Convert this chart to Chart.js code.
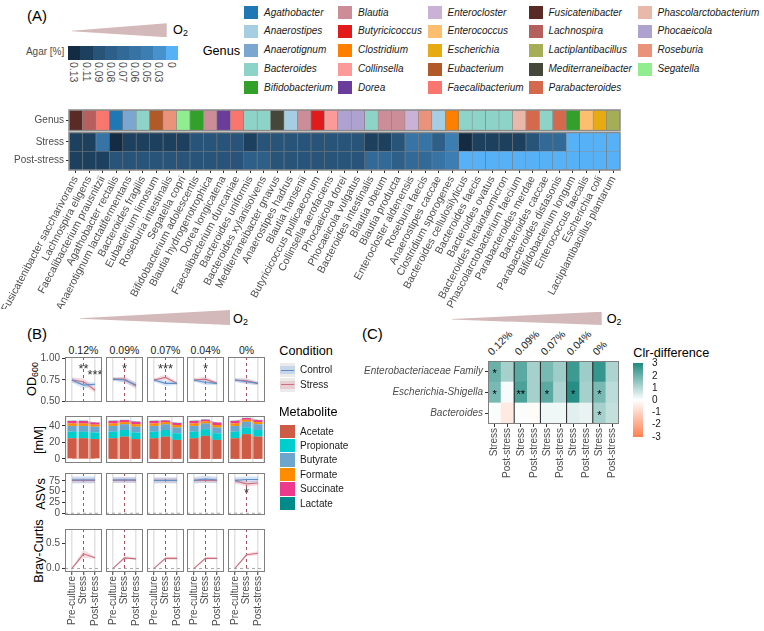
<!DOCTYPE html>
<html><head><meta charset="utf-8">
<script src="https://cdn.jsdelivr.net/npm/chart.js@4.4.1/dist/chart.umd.min.js"></script>
<style>
html,body{margin:0;padding:0;background:#fff;}
body{width:764px;height:631px;position:relative;overflow:hidden;font-family:"Liberation Sans",Arial,sans-serif;}
canvas{position:absolute;}
.t{position:absolute;white-space:nowrap;line-height:1;}
.box{position:absolute;}
sub{font-size:70%;vertical-align:-0.3em;line-height:0;}
</style></head><body>
<script>
// ================= DATA =================
// Panel A
const species = ["Fusicatenibacter saccharivorans","Lachnospira eligens","Faecalibacterium prausnitzii","Agathobacter rectalis","Anaerotignum lactatifermentans","Bacteroides fragilis","Eubacterium limosum","Roseburia intestinalis","Segatella copri","Bifidobacterium adolescentis","Blautia hydrogenotrophica","Dorea longicatena","Faecalibacterium duncaniae","Bacteroides uniformis","Bacteroides xylanisolvens","Mediterraneibacter gnavus","Anaerostipes hadrus","Blautia hansenii","Butyricicoccus pullicaecorum","Collinsella aerofaciens","Phocaeicola dorei","Phocaeicola vulgatus","Bacteroides intestinalis","Blautia obeum","Blautia producta","Enterocloster aldenensis","Roseburia faecis","Anaerostipes caccae","Clostridium sporogenes","Bacteroides cellulosilyticus","Bacteroides faecis","Bacteroides ovatus","Bacteroides thetaiotaomicron","Phascolarctobacterium faecium","Parabacteroides merdae","Bacteroides caccae","Parabacteroides distasonis","Bifidobacterium longum","Enterococcus faecalis","Escherichia coli","Lactiplantibacillus plantarum"];
const genusNames = ["Agathobacter","Anaerostipes","Anaerotignum","Bacteroides","Bifidobacterium","Blautia","Butyricicoccus","Clostridium","Collinsella","Dorea","Enterocloster","Enterococcus","Escherichia","Eubacterium","Faecalibacterium","Fusicatenibacter","Lachnospira","Lactiplantibacillus","Mediterraneibacter","Parabacteroides","Phascolarctobacterium","Phocaeicola","Roseburia","Segatella"];
const genusColors = ["#1F78B4","#A6CEE3","#7BA6CF","#8DD3C7","#33A02C","#CC8C98","#E31A1C","#FF7F00","#FB9A99","#6A3D9A","#CAB2D6","#FDBF6F","#E6AB12","#B15928","#F8766D","#5A2A27","#B5605E","#A6AD57","#44473A","#D4694E","#E8B8AA","#ADA2D0","#EA937A","#90EE90"];
const agarTicks = [0.13,0.11,0.09,0.08,0.07,0.06,0.05,0.03,0];
const stressAgar = [0.11,0.11,0.06,0.13,0.11,0.11,0.11,0.11,0.11,0.09, 0.09,0.09,0.09,0.11,0.09,0.09,0.09,0.09,0.09,0.09, 0.09,0.09,0.11,0.11,0.09,0.06,0.06,0.08,0.05,0.13, 0.11,0.11,0.11,0.11,0.09,0.07,0.07,0,0,0,0];
const postStressAgar = [0.11,0.11,0.11,0.09,0.09,0.09,0.09,0.09,0.09,0.09, 0.09,0.09,0.09,0.08,0.08,0.09,0.09,0.09,0.09,0.09, 0.09,0.09,0.07,0.07,0.08,0.07,0.07,0.06,0.05,0, 0,0,0,0,0,0,0,0,0,0,0];
const heatRows = ["Post-stress","Stress","Genus"];

// Panel B
const o2Levels = ["0.12%","0.09%","0.07%","0.04%","0%"];
const timepoints = ["Pre-culture","Stress","Post-stress"];
const odControl   = [[0.75,0.69,0.70],[0.76,0.75,0.69],[0.75,0.71,0.71],[0.75,0.72,0.71],[0.75,0.73,0.71]];
const odControlSd = [[0.03,0.04,0.02],[0.02,0.03,0.03],[0.02,0.03,0.02],[0.02,0.03,0.02],[0.02,0.03,0.02]];
const odStress    = [[0.75,0.73,0.63],[0.76,0.76,0.68],[0.75,0.78,0.71],[0.75,0.76,0.71],[0.75,0.74,0.71]];
const odStressSd  = [[0.03,0.04,0.03],[0.02,0.03,0.04],[0.02,0.03,0.02],[0.02,0.03,0.02],[0.02,0.03,0.02]];
const odStarsStress = ["**","*","***","*",""];
const odStarsPost   = ["***","","","",""];
const metabolites = ["Acetate","Propionate","Butyrate","Formate","Succinate","Lactate"];
const metaboliteColors = ["#CD5B45","#00CDCD","#6CA6CD","#FF8C00","#EE3A8C","#008B8B"];
const acetate    = [[25,25,24],[25,27,24],[25,27,23],[25,28,23],[25,30,27]];
const propionate = [[8,8,8],[8,8,8],[8,8,8],[8,8,8],[8,8,8]];
const butyrate   = [[7,7,7],[7,7,7],[7,7,7],[7,7,7],[7,7,7]];
const formate    = [[3,3,2.5],[3,2.5,3],[3,2.5,3],[3,2.5,3],[3,2.5,2.5]];
const succinate  = [[3,3,2.5],[3,2.5,3],[3,2,2.5],[3,2,3],[3,2,2.5]];
const lactate    = [[0.3,0.3,0.3],[0.3,0.3,0.3],[0.3,0.3,0.3],[0.3,0.3,0.3],[0.3,0.3,0.3]];
const asvControl   = [[77,77,77],[77,77,77],[76,76,76],[76,79,77],[76,78,78]];
const asvControlSd = [[8,8,8],[7,7,7],[7,7,7],[7,8,7],[7,7,7]];
const asvStress    = [[76,76,76],[76,77,76],[76,76,76],[76,76,76],[75,68,70]];
const asvStressSd  = [[6,6,6],[6,6,6],[6,6,6],[6,6,6],[6,6,6]];
const asvStarsStress = ["","","","","*"];
const bcStress   = [[0,0.29,0.21],[0,0.21,0.19],[0,0.20,0.20],[0,0.20,0.20],[0,0.27,0.30]];
const bcStressSd = [[0,0.08,0.02],[0,0.03,0.02],[0,0.03,0.03],[0,0.03,0.02],[0,0.03,0.04]];

// Panel C
const clrTaxa = ["Enterobacteriaceae Family","Escherichia-Shigella","Bacteroides"];
const clrColumns = ["Stress","Post-stress","Stress","Post-stress","Stress","Post-stress","Stress","Post-stress","Stress","Post-stress"];
const clrEntero = [2.0,1.2,2.2,1.2,1.8,1.3,2.6,1.3,2.7,1.1];
const clrEsch   = [1.8,0.1,2.4,1.2,2.2,1.1,2.9,1.2,1.8,0.9];
const clrBact   = [0.05,-0.5,0.05,-0.1,0.2,0.2,0.4,0.3,1.2,0.8];
const clrStarsEntero = ["*","","","","","","","","",""];
const clrStarsEsch   = ["*","","**","","*","","*","","*",""];
const clrStarsBact   = ["","","","","","","","","*",""];
const clrLegendTicks = [3,2,1,0,-1,-2,-3];

// ================= HELPERS =================
Chart.defaults.font.family = '"Liberation Sans", Arial, sans-serif';
Chart.defaults.animation = false;
Chart.defaults.responsive = false;
Chart.defaults.color = '#4D4D4D';
Chart.defaults.plugins.legend.display = false;
Chart.defaults.plugins.tooltip.enabled = false;

function hex2rgb(h){h=h.replace('#','');return [0,2,4].map(i=>parseInt(h.substr(i,2),16));}
function mix(a,b,t){const A=hex2rgb(a),B=hex2rgb(b);return 'rgb('+A.map((v,i)=>Math.round(v+(B[i]-v)*t)).join(',')+')';}
function agarColor(v){return mix('#56B1F7','#132B43',v/0.13);}
function clrColor(v){return v>=0?mix('#FFFFFF','#1F8A80',Math.min(v,3)/3):mix('#FFFFFF','#FF7F50',Math.min(-v,3)/3);}
function alpha(hex,a){const c=hex2rgb(hex);return `rgba(${c[0]},${c[1]},${c[2]},${a})`;}

function mkCanvas(left,top,w,h){const c=document.createElement('canvas');c.width=w;c.height=h;c.style.left=left+'px';c.style.top=top+'px';c.style.width=w+'px';c.style.height=h+'px';document.body.appendChild(c);return c;}
function T(html,x,y,o={}){
  const d=document.createElement('div');d.className='t';d.innerHTML=html;
  d.style.fontSize=(o.size||10)+'px';d.style.color=o.color||'#1A1A1A';
  if(o.italic)d.style.fontStyle='italic';
  d.style.left=x+'px';d.style.top=y+'px';
  const ax=o.align==='right'?'-100%':o.align==='center'?'-50%':'0';
  d.style.transform=`translate(${ax},-50%)`+(o.rot?` rotate(${o.rot}deg)`:'');
  document.body.appendChild(d);return d;
}
function B(x,y,w,h,css){const d=document.createElement('div');d.className='box';d.style.left=x+'px';d.style.top=y+'px';d.style.width=w+'px';d.style.height=h+'px';Object.assign(d.style,css);document.body.appendChild(d);return d;}
function wedge(x,y,w,h,tip){B(x,y,w,h,{background:'#D3B9B9',clipPath:`polygon(0% ${tip}%, 100% 0%, 100% 100%, 0% ${tip+4}%)`});}

// ================= PANEL A =================
T('(A)',27,15,{size:15,color:'#000'});
wedge(71.7,23.3,95,14,53);
T('O<sub>2</sub>',173,30,{size:12.7,color:'#000'});
T('Agar [%]',64.3,52,{size:10,color:'#4D4D4D',align:'right'});
agarTicks.forEach((v,i)=>{
  B(68.3+i*12.15,45.7,12.3,14.3,{background:agarColor(v)});
  const d=T(String(v),68.3+i*12.15+6.1,62,{size:10.5,color:'#4D4D4D'});
  d.style.transformOrigin='0 0';d.style.transform='rotate(90deg) translate(0,-50%)';
});
T('Genus',202.7,51,{size:12.7,color:'#000'});
const legCols=[244,338,427.5,528.5,637.5];
genusNames.forEach((g,i)=>{
  const c=Math.floor(i/5),r=i%5;const cy=12.5+r*18.85;
  B(legCols[c],cy-6.5,14,13,{background:genusColors[i]});
  T(g,legCols[c]+20,cy,{size:10,italic:true,color:'#1A1A1A'});
});

const speciesGenus = species.map(s=>s.split(' ')[0]);
const cellUnit = species.map(()=>1);
const heatFrame = {id:'heatFrame',afterDatasetsDraw(chart){
  const {ctx,chartArea:a,scales:{y}}=chart;ctx.save();ctx.strokeStyle='#8A8A8A';ctx.lineWidth=1.5;
  ctx.strokeRect(a.left,y.getPixelForValue(3.2),a.width,y.getPixelForValue(2.1)-y.getPixelForValue(3.2));
  ctx.strokeRect(a.left,y.getPixelForValue(2),a.width,y.getPixelForValue(0)-y.getPixelForValue(2));
  ctx.restore();}};
new Chart(mkCanvas(0.5,108.5,620,200),{
  type:'bar',
  data:{labels:species,datasets:[
    {data:cellUnit,backgroundColor:postStressAgar.map(agarColor),borderColor:'rgba(20,20,20,0.45)',borderWidth:0.6,barPercentage:1,categoryPercentage:1},
    {data:cellUnit,backgroundColor:stressAgar.map(agarColor),borderColor:'rgba(20,20,20,0.45)',borderWidth:0.6,barPercentage:1,categoryPercentage:1},
    {data:species.map(()=>0.1),backgroundColor:'rgba(0,0,0,0)',borderWidth:0,barPercentage:1,categoryPercentage:1},
    {data:species.map(()=>1.1),backgroundColor:speciesGenus.map(g=>genusColors[genusNames.indexOf(g)]),borderColor:'rgba(80,80,80,0.6)',borderWidth:0.6,barPercentage:1,categoryPercentage:1}
  ]},
  options:{layout:{padding:{top:1,right:1,left:0,bottom:0}},
    scales:{
      x:{stacked:true,offset:true,grid:{offset:false,drawOnChartArea:false,tickLength:3,tickColor:'#333'},border:{display:false},
         ticks:{autoSkip:false,minRotation:62,maxRotation:62,padding:1,font:{size:10.6},color:'#4D4D4D'},
         afterFit:s=>{s.height=139;s.paddingLeft=0;s.paddingRight=0;}},
      y:{stacked:true,min:0,max:3.2,afterBuildTicks:s=>{s.ticks=[0.5,1.5,2.65].map(v=>({value:v}));},
         afterFit:s=>{s.width=68;s.paddingTop=0;s.paddingBottom=0;},grid:{drawOnChartArea:false,tickLength:3,tickColor:'#333'},border:{display:false},
         ticks:{autoSkip:false,font:{size:10},color:'#4D4D4D',padding:2,callback:v=>heatRows[Math.min(2,Math.floor(v))]}}
    }},
  plugins:[heatFrame]
});

// ================= PANEL B =================
T('(B)',27,333,{size:15,color:'#000'});
wedge(80,310,150,15,55);
T('O<sub>2</sub>',233,319,{size:12.7,color:'#000'});
const FX=[65,106,147,187,228], FW=37;
o2Levels.forEach((l,c)=>T(l,FX[c]+FW/2,350,{size:10.5,align:'center'}));
T('OD<sub>600</sub>',32,379,{size:12.7,color:'#000',align:'center',rot:-90});
T('[mM]',39,439.5,{size:12.7,color:'#000',align:'center',rot:-90});
T('ASVs',41,494,{size:12.7,color:'#000',align:'center',rot:-90});
T('Bray-Curtis',39,550.5,{size:12.7,color:'#000',align:'center',rot:-90});

const CTRL='#5B8FC9', STR='#C9707F', CTRL_F='rgba(120,170,225,0.30)', STR_F='rgba(225,140,155,0.30)';
const facetPlugin={id:'facetDeco',
  beforeDatasetsDraw(chart,args,o){
    const {ctx,chartArea:a,scales:{x,y}}=chart;ctx.save();
    ctx.beginPath();ctx.rect(a.left,a.top,a.width,a.height);ctx.clip();
    ctx.lineWidth=1;ctx.setLineDash([3,3]);
    if(o.zeroLine){const py=y.getPixelForValue(0);ctx.strokeStyle='#A8A8A8';ctx.beginPath();ctx.moveTo(a.left,py);ctx.lineTo(a.right,py);ctx.stroke();}
    if(o.stressLine){const px=x.getPixelForValue(2);ctx.strokeStyle='#A5505E';ctx.beginPath();ctx.moveTo(px,a.top);ctx.lineTo(px,a.bottom);ctx.stroke();}
    ctx.restore();},
  afterDatasetsDraw(chart,args,o){
    const {ctx,chartArea:a,scales:{x,y}}=chart;ctx.save();
    ctx.fillStyle='#333';ctx.font='13px "Liberation Sans", Arial, sans-serif';ctx.textAlign='center';ctx.textBaseline='middle';
    (o.stars||[]).forEach(s=>{if(s.text)ctx.fillText(s.text,x.getPixelForValue(s.x),y.getPixelForValue(s.y));});
    ctx.strokeStyle='#7F7F7F';ctx.lineWidth=1;ctx.strokeRect(a.left+0.5,a.top+0.5,a.width-1,a.height-1);
    ctx.restore();}
};
function pts(arr){return arr.map((v,i)=>({x:i+1,y:v}));}
function ribbon(mean,sd,line,fill){
  return [
    {type:'line',data:pts(mean.map((m,i)=>m+sd[i])),borderWidth:0,pointRadius:0,fill:false,order:2},
    {type:'line',data:pts(mean.map((m,i)=>m-sd[i])),borderWidth:0,pointRadius:0,fill:'-1',backgroundColor:fill,order:2}
  ];
}
function meanLine(mean,color){return {type:'line',data:pts(mean),borderColor:color,borderWidth:1.1,pointRadius:0,fill:false,tension:0,order:1};}

const PT=8;
function facet(c,top,h,xAxisH,yMin,yMax,yTicks,yFmt,datasets,deco,stacked){
  const yW=c===0?45:0;const showX=xAxisH>0;
  return new Chart(mkCanvas(FX[c]-yW,top-PT,yW+FW+1,h+2*PT+xAxisH),{
    type:'line',data:{datasets},
    options:{layout:{padding:{top:PT,right:1,bottom:PT,left:0}},
      scales:{
        x:{type:'linear',min:0.4,max:3.6,offset:false,stacked:!!stacked,
           afterBuildTicks:s=>{s.ticks=timepoints.map((t,i)=>({value:i+1}));},
           afterFit:s=>{s.height=xAxisH;s.paddingLeft=0;s.paddingRight=0;},
           grid:{color:ctx=>(ctx.tick&&ctx.tick.value===2)?'rgba(0,0,0,0)':'#E2E2E2',lineWidth:1.5,drawTicks:showX,tickLength:3,tickColor:'#333',tickWidth:1},
           border:{display:false},
           ticks:{display:showX,autoSkip:false,minRotation:90,maxRotation:90,padding:1,font:{size:10},color:'#4D4D4D',callback:v=>timepoints[Math.round(v)-1]}},
        y:{type:'linear',min:yMin,max:yMax,display:c===0,stacked:!!stacked,
           afterBuildTicks:s=>{s.ticks=yTicks.map(v=>({value:v}));},
           afterFit:s=>{s.width=yW;s.paddingTop=0;s.paddingBottom=0;},
           grid:{drawOnChartArea:false,tickLength:3,tickColor:'#333'},border:{display:false},
           ticks:{autoSkip:false,font:{size:10},color:'#4D4D4D',padding:2,callback:yFmt}}
      },
      plugins:{facetDeco:deco}},
    plugins:[facetPlugin]
  });
}
const metaboliteSeries=[acetate,propionate,butyrate,formate,succinate,lactate];
o2Levels.forEach((l,c)=>{
  // OD600
  facet(c,357,45,0,0.492,1.019,[0.5,0.75,1.0],v=>v.toFixed(2),
    [...ribbon(odControl[c],odControlSd[c],CTRL,CTRL_F),...ribbon(odStress[c],odStressSd[c],STR,STR_F),meanLine(odControl[c],CTRL),meanLine(odStress[c],STR)],
    {stressLine:true,stars:[{x:2,y:0.875,text:odStarsStress[c]},{x:3,y:0.80,text:odStarsPost[c]}]});
  // Metabolites
  const areas=metaboliteSeries.map((s,k)=>({type:'line',data:pts(s[c]),borderWidth:0,pointRadius:0,fill:k===0?'origin':'-1',backgroundColor:alpha(metaboliteColors[k],0.45),order:2}));
  const bars=metaboliteSeries.map((s,k)=>({type:'bar',data:pts(s[c]),backgroundColor:metaboliteColors[k],borderWidth:0,barPercentage:0.78,categoryPercentage:1,order:1}));
  facet(c,416,47,0,-5,52,[0,20,40],v=>String(v),[...areas,...bars],{},true);
  // ASVs
  facet(c,473,42,0,-4,93,[0,25,50,75],v=>String(v),
    [...ribbon(asvControl[c],asvControlSd[c],CTRL,CTRL_F),...ribbon(asvStress[c],asvStressSd[c],STR,STR_F),meanLine(asvControl[c],CTRL),meanLine(asvStress[c],STR)],
    {stressLine:true,zeroLine:true,stars:[{x:2,y:45,text:asvStarsStress[c]}]});
  // Bray-Curtis
  facet(c,529,43,57,-0.07,0.78,[0,0.5],v=>v.toFixed(1),
    [...ribbon(bcStress[c],bcStressSd[c],STR,STR_F),meanLine(bcStress[c],STR)],
    {stressLine:true,zeroLine:true});
});
// Legend B
T('Condition',279.3,351,{size:12.7,color:'#000'});
[['Control',CTRL,CTRL_F],['Stress',STR,STR_F]].forEach((e,i)=>{
  const top=363+i*14.6;
  B(280,top,15,14.2,{background:'#EBEBEB'});
  B(280,top+3,15,8,{background:e[2]});
  B(281,top+6.6,13,1.2,{background:e[1]});
  T(e[0],300,top+7.3,{size:10});
});
T('Metabolite',279,412,{size:12.7,color:'#000'});
metabolites.forEach((m,i)=>{
  const top=424.5+i*14.4;
  B(280,top,14.5,13.6,{background:metaboliteColors[i]});
  T(m,300,top+7,{size:10});
});

// ================= PANEL C =================
T('(C)',362,333,{size:15,color:'#000'});
wedge(451.7,311.7,150,13.3,55);
T('O<sub>2</sub>',606.7,319,{size:12.7,color:'#000'});
o2Levels.forEach((l,k)=>{
  const fc=488.3+26.2*(k+0.5);
  const d=T(l,fc-8,357,{size:10.5});
  d.style.transformOrigin='0 0';d.style.transform='rotate(-45deg) translate(0,-100%)';
});
const clrPlugin={id:'clrDeco',afterDatasetsDraw(chart){
  const {ctx,chartArea:a,scales:{x,y}}=chart;ctx.save();
  ctx.fillStyle='#000';ctx.font='11px "Liberation Sans", Arial, sans-serif';ctx.textAlign='center';ctx.textBaseline='middle';
  [clrStarsBact,clrStarsEsch,clrStarsEntero].forEach((row,r)=>row.forEach((s,i)=>{if(s)ctx.fillText(s,x.getPixelForValue(i),y.getPixelForValue(r+0.5)+2);}));
  ctx.strokeStyle='#222';ctx.lineWidth=1;
  for(let k=1;k<5;k++){const px=(x.getPixelForValue(2*k-1)+x.getPixelForValue(2*k))/2;ctx.beginPath();ctx.moveTo(px,a.top);ctx.lineTo(px,a.bottom);ctx.stroke();}
  ctx.strokeStyle='#7F7F7F';ctx.strokeRect(a.left+0.5,a.top+0.5,a.width-1,a.height-1);
  ctx.restore();}};
const ones10=clrColumns.map(()=>1);
new Chart(mkCanvas(340,359.7,280,121),{
  type:'bar',
  data:{labels:clrColumns,datasets:[
    {data:ones10,backgroundColor:clrBact.map(clrColor),borderWidth:0,barPercentage:1,categoryPercentage:1},
    {data:ones10,backgroundColor:clrEsch.map(clrColor),borderWidth:0,barPercentage:1,categoryPercentage:1},
    {data:ones10,backgroundColor:clrEntero.map(clrColor),borderWidth:0,barPercentage:1,categoryPercentage:1}
  ]},
  options:{layout:{padding:{top:1,right:1,left:0,bottom:1}},
    scales:{
      x:{stacked:true,offset:true,grid:{offset:false,drawOnChartArea:false,tickLength:3,tickColor:'#333'},border:{display:false},
         ticks:{autoSkip:false,minRotation:90,maxRotation:90,padding:1,font:{size:10},color:'#4D4D4D'},
         afterFit:s=>{s.height=56;s.paddingLeft=0;s.paddingRight=0;}},
      y:{stacked:true,min:0,max:3,afterBuildTicks:s=>{s.ticks=[0.5,1.5,2.5].map(v=>({value:v}));},
         afterFit:s=>{s.width=148;s.paddingTop=0;s.paddingBottom=0;},grid:{drawOnChartArea:false,tickLength:3,tickColor:'#333'},border:{display:false},
         ticks:{autoSkip:false,font:{size:10,style:'italic'},color:'#4D4D4D',padding:2,callback:v=>clrTaxa[2-Math.floor(v)]}}
    }},
  plugins:[clrPlugin]
});
T('Clr-difference',633.3,353.3,{size:12.7,color:'#000'});
B(633.3,363.3,10,73.4,{background:'linear-gradient(to bottom,#1F8A80 0%,#FFFFFF 50%,#FF7F50 100%)'});
clrLegendTicks.forEach((v,i)=>T(String(v),652,363.3+i*12.23,{size:10}));
</script>
</body></html>
